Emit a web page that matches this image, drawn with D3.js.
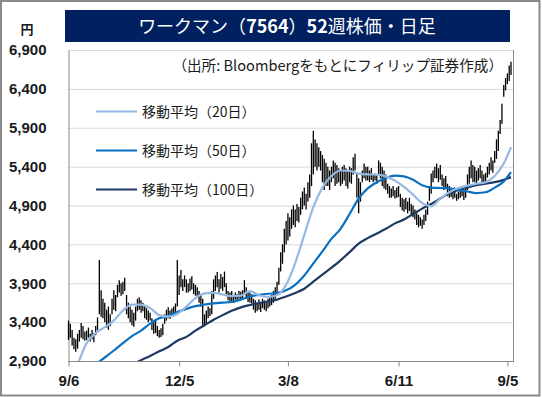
<!DOCTYPE html>
<html>
<head>
<meta charset="utf-8">
<script src="https://cdn.jsdelivr.net/npm/d3@7"></script>
<style>
  body { margin: 0; background: #fff; }
  svg { display: block; }
</style>
</head>
<body>
<div id="chart"></div>
<script>
// 日足の高値・安値（9/6 から 245 営業日）
const highs = [
  3420, 3380, 3300, 3200, 3180, 3250, 3300, 3390, 3350, 3280,
  3290, 3330, 3250, 3300, 3260, 3350, 3460, 4200, 3810, 3700,
  3650, 3560, 3600, 3500, 3700, 3810, 3750, 3880, 3940, 3900,
  3920, 3970, 3750, 3650, 3600, 3560, 3520, 3600, 3700, 3720,
  3680, 3650, 3600, 3580, 3550, 3520, 3450, 3400, 3420, 3350,
  3300, 3320, 3380, 3500, 3560, 3590, 3550, 3580, 3600, 3640,
  4200, 4000, 4070, 3950, 4000, 3950, 3900, 3960, 3990, 3900,
  3880, 3850, 3800, 3750, 3700, 3500, 3550, 3600, 3580, 3800,
  3950, 4000, 4045, 3950, 4020, 3980, 4050, 3900, 3800, 3780,
  3800, 3750, 3780, 3760, 3800, 3790, 3810, 3940, 3850, 3800,
  3780, 3760, 3700, 3680, 3650, 3690, 3660, 3700, 3680, 3650,
  3700, 3720, 3750, 3800, 3850, 3920, 4100, 4300, 4400, 4600,
  4700, 4800, 4750, 4850, 4900, 4850, 4920, 4880, 5000, 5080,
  5130, 5050, 5200, 5300, 5700, 5860, 5750, 5700, 5650, 5600,
  5550, 5500, 5450, 5400, 5350, 5400, 5480, 5450, 5420, 5380,
  5350, 5400, 5420, 5380, 5350, 5400, 5380, 5520, 5565, 5310,
  5250, 5200, 5350, 5440, 5400, 5400, 5350, 5380, 5300, 5310,
  5290, 5480, 5450, 5400, 5350, 5300, 5180, 5150, 5120, 5150,
  5100, 5130, 5150, 5050, 5000, 4980, 5000, 4950, 5000, 4920,
  4900, 4850, 4800, 4780, 4750, 4720, 4780, 4850, 4950, 5150,
  5310, 5350, 5400, 5440, 5380, 5420, 5300, 5250, 5280, 5180,
  5150, 5120, 5100, 5130, 5050, 5080, 5100, 5130, 5080, 5120,
  5300, 5400, 5480, 5420, 5400, 5350, 5380, 5420, 5350, 5300,
  5320, 5400, 5450, 5520, 5480, 5600, 5750, 5860, 6000, 6210,
  6450, 6540, 6600, 6700, 6750
];
const lows = [
  3170, 3200, 3100, 3050, 3020, 3060, 3150, 3200, 3180, 3160,
  3170, 3200, 3150, 3180, 3140, 3230, 3300, 3500, 3470, 3450,
  3400, 3330, 3300, 3350, 3500, 3560, 3540, 3720, 3780, 3740,
  3760, 3800, 3500, 3450, 3400, 3360, 3340, 3420, 3540, 3560,
  3520, 3540, 3450, 3430, 3400, 3420, 3300, 3250, 3260, 3220,
  3200, 3210, 3230, 3380, 3420, 3450, 3440, 3480, 3500, 3500,
  3600, 3750, 3850, 3800, 3850, 3780, 3780, 3800, 3820, 3760,
  3740, 3720, 3650, 3600, 3340, 3350, 3380, 3450, 3480, 3500,
  3700, 3800, 3850, 3780, 3830, 3800, 3850, 3750, 3680, 3650,
  3660, 3650, 3690, 3680, 3700, 3690, 3700, 3750, 3700, 3660,
  3650, 3640, 3560, 3520, 3540, 3560, 3530, 3580, 3560, 3540,
  3580, 3600, 3620, 3650, 3700, 3770, 3880, 4050, 4150, 4300,
  4400, 4450, 4500, 4600, 4650, 4620, 4700, 4680, 4780, 4850,
  4900, 4850, 4950, 5000, 5150, 5300, 5400, 5350, 5400, 5350,
  5200, 5100, 5150, 5150, 5100, 5200, 5250, 5150, 5180, 5200,
  5150, 5180, 5220, 5150, 5120, 5200, 5180, 5300, 5350, 5000,
  4800, 4950, 5200, 5250, 5220, 5220, 5200, 5230, 5200, 5220,
  5180, 5300, 5250, 5150, 5120, 5100, 5050, 5000, 5000, 5020,
  4990, 5000, 5010, 4880, 4840, 4820, 4850, 4800, 4830, 4780,
  4750, 4720, 4650, 4620, 4640, 4600, 4650, 4700, 4780, 4960,
  5050, 5200, 5250, 5250, 5200, 5230, 5150, 5100, 5120, 5020,
  5000, 5010, 4980, 5000, 4960, 4980, 5000, 5020, 4970, 5000,
  5100, 5180, 5250, 5200, 5200, 5180, 5220, 5250, 5200, 5180,
  5200, 5260, 5300, 5350, 5320, 5450, 5500, 5600, 5820, 5950,
  6300, 6380, 6460, 6500, 6580
];

// 移動平均（5営業日ごとに読み取り）
const maDays = [0, 5, 10, 15, 20, 25, 30, 35, 40, 45, 50, 55, 60, 65, 70, 75, 80, 85, 90, 95,
  100, 105, 110, 115, 120, 125, 130, 135, 140, 145, 150, 155, 160, 165, 170, 175, 180, 185, 190, 195,
  200, 205, 210, 215, 220, 225, 230, 235, 240, 244];
const ma20 = [null, 2850, 3130, 3260, 3335, 3420, 3550, 3625, 3625, 3580, 3490, 3470, 3505, 3600, 3710, 3770, 3776, 3755, 3735, 3740,
  3800, 3745, 3724, 3745, 3880, 4160, 4520, 4880, 5130, 5280, 5350, 5345, 5310, 5300, 5297, 5275, 5220, 5140, 5040, 4930,
  4890, 4990, 5070, 5125, 5155, 5180, 5200, 5280, 5440, 5650];
const ma50 = [null, null, null, 2860, 2945, 3035, 3130, 3220, 3290, 3380, 3450, 3480, 3530, 3570, 3605, 3625, 3640, 3650, 3660, 3690,
  3730, 3750, 3765, 3775, 3810, 3880, 4000, 4155, 4310, 4470, 4600, 4790, 4990, 5120, 5200, 5255, 5285, 5275, 5230, 5160,
  5130, 5125, 5120, 5100, 5080, 5060, 5070, 5130, 5210, 5330];
const ma100 = [null, null, null, null, null, null, null, 2850, 2910, 2965, 3025, 3080, 3160, 3210, 3290, 3360, 3430, 3490, 3545, 3590,
  3620, 3645, 3665, 3690, 3730, 3775, 3830, 3920, 4010, 4100, 4195, 4300, 4410, 4480, 4540, 4600, 4670, 4720, 4790, 4860,
  4920, 4990, 5060, 5100, 5130, 5160, 5180, 5200, 5230, 5265];

const yTicks = [2900, 3400, 3900, 4400, 4900, 5400, 5900, 6400, 6900];
const xTickDays = [0, 61, 121, 182, 242];
const xTickLabels = ['9/6', '12/5', '3/8', '6/11', '9/5'];

const series = [
  { name: '移動平均（20日）', values: ma20, color: '#95B9E1' },
  { name: '移動平均（50日）', values: ma50, color: '#0A70C0' },
  { name: '移動平均（100日）', values: ma100, color: '#1F3864' }
];

const W = 542, H = 397;
const plot = { left: 68, right: 513, top: 50, bottom: 361 };
const numFont = '"Liberation Sans", Arial, sans-serif';
const jpFont = '"Noto Sans CJK JP", "Noto Sans", sans-serif';

const svg = d3.select('#chart').append('svg')
  .attr('width', W).attr('height', H);

svg.append('rect').attr('width', W).attr('height', H).attr('fill', '#fff');
svg.append('rect')
  .attr('x', 1).attr('y', 1).attr('width', 538.5).attr('height', 394.5)
  .attr('fill', 'none').attr('stroke', '#8a8a8a').attr('stroke-width', 2);

const x = d3.scaleLinear().domain([0, 244]).range([plot.left + 0.5, 511]);
const y = d3.scaleLinear().domain([2900, 6900]).range([plot.bottom, plot.top]);

// グリッド線
svg.append('g')
  .selectAll('line')
  .data(yTicks.slice(1))
  .join('line')
  .attr('x1', plot.left).attr('x2', plot.right)
  .attr('y1', d => y(d) + 0.5).attr('y2', d => y(d) + 0.5)
  .attr('stroke', '#d9d9d9').attr('stroke-width', 1);

svg.append('line')
  .attr('x1', plot.right + 0.5).attr('x2', plot.right + 0.5)
  .attr('y1', plot.top).attr('y2', plot.bottom)
  .attr('stroke', '#8a8a8a');

// 軸
const yAxis = svg.append('g')
  .attr('transform', `translate(${plot.left + 0.5},0)`)
  .call(d3.axisLeft(y).tickValues(yTicks).tickSize(0).tickPadding(22).tickFormat(d3.format(',')));
yAxis.select('.domain').attr('stroke', '#8a8a8a');
yAxis.selectAll('text')
  .attr('font-family', numFont).attr('font-size', 15).attr('font-weight', 'bold').attr('fill', '#1a1a1a');

const xAxis = svg.append('g')
  .attr('transform', `translate(0,${plot.bottom + 0.5})`)
  .call(d3.axisBottom(x).tickValues(xTickDays).tickSize(5).tickPadding(9)
    .tickFormat((d, i) => xTickLabels[i]).tickSizeOuter(0));
xAxis.select('.domain').attr('stroke', '#8a8a8a').attr('d', `M${plot.left},0H${plot.right + 1}`);
xAxis.selectAll('.tick line').attr('stroke', '#8a8a8a');
xAxis.selectAll('text')
  .attr('font-family', numFont).attr('font-size', 15).attr('font-weight', 'bold').attr('fill', '#1a1a1a');

// ローソク足（高値-安値）
svg.append('g')
  .selectAll('line')
  .data(highs.map((h, i) => ({ i, h, l: lows[i] })))
  .join('line')
  .attr('x1', d => x(d.i)).attr('x2', d => x(d.i))
  .attr('y1', d => y(d.h)).attr('y2', d => y(d.l))
  .attr('stroke', '#000').attr('stroke-width', 1.3);

// 移動平均線
svg.append('clipPath').attr('id', 'clip')
  .append('rect')
  .attr('x', plot.left).attr('y', plot.top)
  .attr('width', plot.right - plot.left).attr('height', plot.bottom - plot.top);

const line = d3.line()
  .defined(d => d.v != null)
  .x(d => x(d.i)).y(d => y(d.v))
  .curve(d3.curveMonotoneX);

svg.append('g').attr('clip-path', 'url(#clip)')
  .selectAll('path')
  .data(series.slice().reverse())
  .join('path')
  .attr('d', s => line(maDays.map((d, k) => ({ i: d, v: s.values[k] }))))
  .attr('fill', 'none')
  .attr('stroke', s => s.color)
  .attr('stroke-width', 2.2);

// 凡例
const legend = svg.append('g')
  .selectAll('g')
  .data(series)
  .join('g')
  .attr('transform', (d, i) => `translate(96,${111.5 + i * 39})`);
legend.append('line')
  .attr('x1', 0).attr('x2', 41)
  .attr('stroke', d => d.color).attr('stroke-width', 2.2);
legend.append('text')
  .attr('x', 46).attr('y', 5)
  .attr('font-family', jpFont).attr('font-size', 14).attr('fill', '#1a1a1a')
  .text(d => d.name);

// タイトル
svg.append('rect')
  .attr('x', 65).attr('y', 10).attr('width', 445).attr('height', 32)
  .attr('fill', '#002060');
const title = svg.append('text')
  .attr('x', 287).attr('y', 33)
  .attr('text-anchor', 'middle')
  .attr('font-family', jpFont).attr('font-size', 18).attr('fill', '#fff');
title.append('tspan').text('ワークマン（');
title.append('tspan').attr('font-weight', 'bold').text('7564');
title.append('tspan').text('）');
title.append('tspan').attr('font-weight', 'bold').text('52');
title.append('tspan').text('週株価・日足');

svg.append('text')
  .attr('x', 27).attr('y', 34)
  .attr('text-anchor', 'middle')
  .attr('font-family', jpFont).attr('font-size', 13).attr('font-weight', 'bold').attr('fill', '#1a1a1a')
  .text('円');

svg.append('text')
  .attr('x', 503).attr('y', 71)
  .attr('text-anchor', 'end')
  .attr('font-family', jpFont).attr('font-size', 14.6).attr('fill', '#1a1a1a')
  .text('（出所: Bloombergをもとにフィリップ証券作成）');
</script>
</body>
</html>
